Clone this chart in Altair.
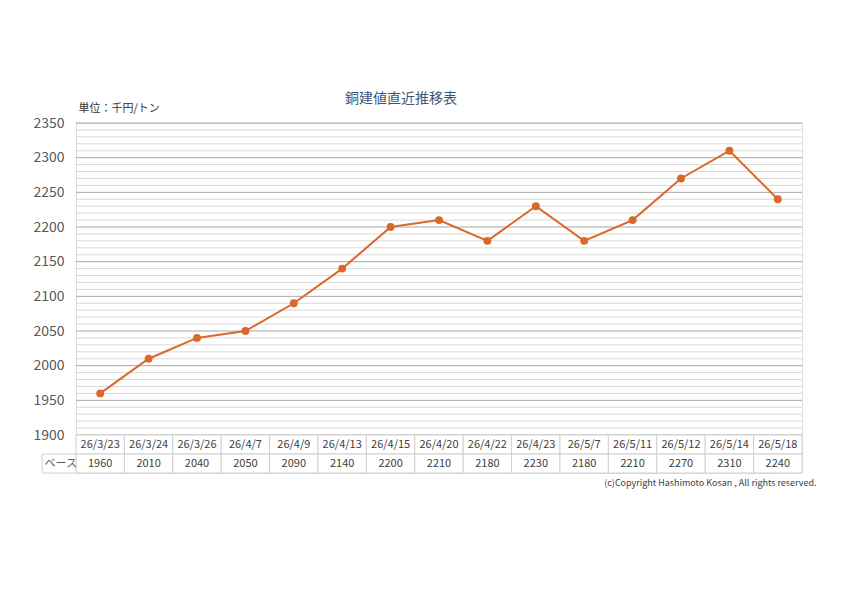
import altair as alt
import pandas as pd

dates = ["26/3/23", "26/3/24", "26/3/26", "26/4/7", "26/4/9", "26/4/13", "26/4/15",
         "26/4/20", "26/4/22", "26/4/23", "26/5/7", "26/5/11", "26/5/12", "26/5/14", "26/5/18"]
prices = [1960, 2010, 2040, 2050, 2090, 2140, 2200, 2210, 2180, 2230, 2180, 2210, 2270, 2310, 2240]
y_ticks = [1900, 1950, 2000, 2050, 2100, 2150, 2200, 2250, 2300, 2350]
grid_vals = list(range(1900, 2351, 10))
title_text = "銅建値直近推移表"
unit_text = "単位：千円/トン"
row_label = "ベース"
copyright_text = "(c)Copyright Hashimoto Kosan , All rights reserved."

FONT = "Noto Sans CJK JP"
LINE_COLOR = "#D9682A"
W, H = 726, 350
PLOT_H = 312

df = pd.DataFrame({"i": list(range(len(dates))), "date": dates, "price": prices})
grid_df = pd.DataFrame({"v": grid_vals, "major": [v % 50 == 0 for v in grid_vals]})

xs = alt.Scale(domain=[-0.5, len(dates) - 0.5], nice=False, zero=False)
ys = alt.Scale(domain=[1900, 2350], range=[PLOT_H, 0], nice=False, zero=False)

grid = alt.Chart(grid_df).mark_rule(strokeWidth=1).encode(
    y=alt.Y("v:Q", scale=ys, axis=alt.Axis(
        values=y_ticks, format="d", grid=False, domain=False, ticks=False,
        labelFont=FONT, labelFontSize=14, labelColor="#595959", labelPadding=12,
        title=unit_text, titleAngle=0, titleAlign="left", titleBaseline="alphabetic",
        titleX=2, titleY=-12, titleFont=FONT, titleFontSize=11, titleFontWeight="normal",
        titleColor="#333333")),
    x=alt.value(0), x2=alt.value(W),
    color=alt.condition("datum.major", alt.value("#A6A6A6"), alt.value("#D9D9D9")),
)

line = alt.Chart(df).mark_line(color=LINE_COLOR, strokeWidth=2).encode(
    x=alt.X("i:Q", scale=xs, axis=None),
    y=alt.Y("price:Q", scale=ys, axis=None),
)
pts = alt.Chart(df).mark_circle(color=LINE_COLOR, size=62, opacity=1).encode(
    x=alt.X("i:Q", scale=xs, axis=None),
    y=alt.Y("price:Q", scale=ys, axis=None),
)

# table below the plot
rows_scale = alt.Scale(domain=["date", "base", "copy"], range=[PLOT_H, PLOT_H + 57],
                       paddingInner=0, paddingOuter=0)
cells = []
for i, d in enumerate(dates):
    cells.append({"x0": i - 0.5, "x1": i + 0.5, "row": "date"})
    cells.append({"x0": i - 0.5, "x1": i + 0.5, "row": "base"})
cells.append({"x0": -1.2, "x1": -0.5, "row": "base"})
cells_df = pd.DataFrame(cells)

cell_rect = alt.Chart(cells_df).mark_rect(fill="white", stroke="#D0D0D0", strokeWidth=1).encode(
    x=alt.X("x0:Q", scale=xs, axis=None), x2="x1:Q",
    y=alt.Y("row:N", scale=rows_scale, axis=None),
)

txt_rows = []
for i, d in enumerate(dates):
    txt_rows.append({"x": i, "row": "date", "t": d})
    txt_rows.append({"x": i, "row": "base", "t": str(prices[i])})
txt_df = pd.DataFrame(txt_rows)
cell_txt = alt.Chart(txt_df).mark_text(font=FONT, fontSize=11, color="#404040").encode(
    x=alt.X("x:Q", scale=xs, axis=None),
    y=alt.Y("row:N", scale=rows_scale, axis=None),
    text="t:N",
)
label_txt = alt.Chart(pd.DataFrame({"x": [-1.15], "row": ["base"], "t": [row_label]})).mark_text(
    font=FONT, fontSize=11, color="#595959", align="left").encode(
    x=alt.X("x:Q", scale=xs, axis=None),
    y=alt.Y("row:N", scale=rows_scale, axis=None),
    text="t:N",
)
copy_txt = alt.Chart(pd.DataFrame({"x": [14.8], "row": ["copy"], "t": [copyright_text]})).mark_text(
    font=FONT, fontSize=9, color="#404040", align="right").encode(
    x=alt.X("x:Q", scale=xs, axis=None),
    y=alt.Y("row:N", scale=rows_scale, axis=None),
    text="t:N",
)

chart = alt.layer(grid, line, pts, cell_rect, cell_txt, label_txt, copy_txt).resolve_scale(
    y="independent"
).properties(
    width=W, height=H,
    autosize=alt.AutoSizeParams(type="none"),
    padding={"left": 68, "top": 115, "right": 34, "bottom": 125},
    title=alt.TitleParams(title_text, font=FONT, fontSize=14, fontWeight="normal",
                          color="#3E5779", anchor="middle", frame="group", offset=-4, dx=-38),
).configure_view(stroke=None).configure(background="white")

chart.save("out.html", embed_options={"renderer": "svg", "actions": False})
